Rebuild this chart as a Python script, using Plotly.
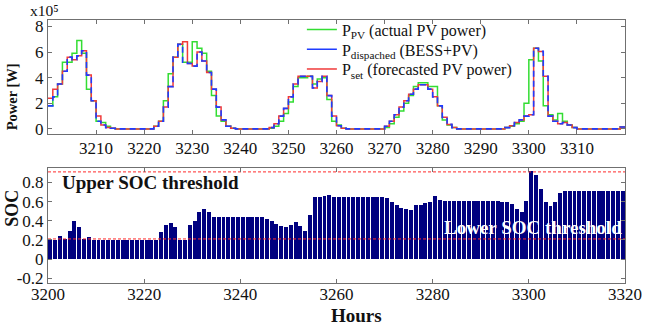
import plotly.graph_objects as go

# ---------------- data ----------------
hours = list(range(3200, 3320))

# power values in units of 1e5 W (axis shows x10^5)
p_pv = [1.8, 2.5, 3.5, 5.2, 5.2, 5.9, 6.9, 5.9, 3.1, 2.2,
        0.6, 0.5, 0.2, 0.05, 0, 0, 0, 0, 0, 0,
        0, 0, 0.2, 0.6, 2.2, 4.3, 5.6, 6.6, 5.2, 5.2,
        6.8, 6.3, 5.9, 4.5, 2.6, 1.0, 0.6, 0.2, 0.05, 0,
        0, 0, 0, 0, 0, 0, 0.05, 0.2, 0.6, 1.2,
        2.1, 3.3, 4.0, 4.0, 4.1, 3.5, 3.9, 4.0, 2.3, 0.6,
        0.3, 0.05, 0, 0, 0, 0, 0, 0, 0, 0,
        0.1, 0.4, 0.9, 1.4, 2.0, 2.6, 3.3, 3.6, 3.6, 3.3,
        3.3, 1.8, 0.7, 0.3, 0.1, 0, 0, 0, 0, 0,
        0, 0, 0, 0, 0, 0.1, 0.2, 0.4, 0.6, 2.0,
        5.4, 6.3, 5.3, 1.8, 1.1, 0.7, 1.2, 0.6, 0.3, 0.1,
        0, 0, 0, 0, 0, 0, 0, 0, 0, 0.15]

p_dispatched = [1.8, 2.5, 3.5, 4.5, 5.6, 5.4, 5.7, 6.1, 4.2, 2.2,
                0.6, 0.3, 0.1, 0.05, 0, 0, 0, 0, 0, 0,
                0, 0, 0.2, 0.6, 1.7, 3.3, 5.6, 6.6, 5.2, 5.1,
                4.9, 6.0, 5.3, 4.4, 3.1, 1.7, 0.7, 0.2, 0.05, 0,
                0, 0, 0, 0, 0, 0, 0.1, 0.4, 1.0, 1.6,
                2.5, 3.5, 4.1, 4.1, 4.1, 3.2, 3.7, 4.1, 2.6, 1.0,
                0.25, 0.05, 0, 0, 0, 0, 0, 0, 0, 0,
                0.2, 0.6, 1.1, 1.7, 2.2, 2.7, 3.1, 3.45, 3.45, 3.1,
                2.5, 1.8, 0.9, 0.35, 0.1, 0, 0, 0, 0, 0,
                0, 0, 0, 0, 0, 0.1, 0.25, 0.5, 0.7, 1.0,
                1.1, 6.3, 6.05, 4.1, 1.0, 0.6, 0.4, 0.5, 0.3, 0.1,
                0, 0, 0, 0, 0, 0, 0, 0, 0, 0.15]

p_set = [2.4, 3.1, 3.5, 4.5, 5.6, 5.4, 5.7, 6.1, 4.2, 2.2,
         1.0, 0.3, 0.1, 0.05, 0, 0, 0, 0, 0, 0,
         0, 0, 0.2, 0.6, 1.7, 3.3, 5.6, 6.6, 6.8, 5.1,
         4.9, 6.0, 5.3, 4.4, 3.1, 1.7, 0.7, 0.2, 0.05, 0,
         0, 0, 0, 0, 0, 0, 0.1, 0.4, 1.0, 1.6,
         2.5, 3.5, 4.1, 4.1, 4.1, 3.2, 3.7, 4.1, 2.6, 1.0,
         0.25, 0.05, 0, 0, 0, 0, 0, 0, 0, 0,
         0.2, 0.6, 1.1, 1.7, 2.2, 2.7, 3.1, 3.45, 3.45, 3.1,
         2.5, 1.8, 0.9, 0.35, 0.1, 0, 0, 0, 0, 0,
         0, 0, 0, 0, 0, 0.1, 0.25, 0.5, 0.7, 1.0,
         1.1, 6.3, 6.05, 4.1, 1.0, 0.6, 0.4, 0.5, 0.3, 0.1,
         0, 0, 0, 0, 0, 0, 0, 0, 0, 0.15]

soc = [0.2, 0.2, 0.245, 0.21, 0.29, 0.40, 0.33, 0.21, 0.225,
       0.195, 0.195, 0.195, 0.195, 0.195, 0.195, 0.195, 0.195, 0.195, 0.195, 0.195, 0.195, 0.195, 0.195,
       0.28, 0.35, 0.375, 0.33, 0.2, 0.2, 0.36, 0.40, 0.49, 0.525, 0.49, 0.44,
       0.44, 0.44, 0.44, 0.44, 0.44, 0.44, 0.44, 0.44, 0.44, 0.44,
       0.42, 0.40, 0.37, 0.34, 0.33, 0.35, 0.39, 0.34, 0.29, 0.456, 0.645, 0.645, 0.655, 0.665,
       0.645, 0.645, 0.645, 0.645, 0.645, 0.645, 0.645, 0.645, 0.645, 0.645, 0.645,
       0.64, 0.6, 0.56, 0.53, 0.525, 0.515, 0.56, 0.56, 0.58, 0.6, 0.655, 0.62,
       0.61, 0.61, 0.61, 0.61, 0.61, 0.61, 0.61, 0.61, 0.61, 0.61, 0.605, 0.605, 0.6, 0.6,
       0.575, 0.52, 0.49, 0.61, 0.92, 0.875, 0.735, 0.59, 0.55, 0.6, 0.69,
       0.715, 0.715, 0.715, 0.715, 0.715, 0.715, 0.715, 0.715, 0.715, 0.715, 0.715, 0.715, 0.715]

upper_soc = 0.91
lower_soc = 0.21

x_ticks_top = [3210, 3220, 3230, 3240, 3250, 3260, 3270, 3280, 3290, 3300, 3310]
x_ticks_bot = [3200, 3220, 3240, 3260, 3280, 3300, 3320]
y_ticks_top = [0, 2, 4, 6, 8]
y_ticks_bot = [-0.2, 0, 0.2, 0.4, 0.6, 0.8]
y_ticktext_bot = ["-0.2", "0", "0.2", "0.4", "0.6", "0.8"]

names = ["P<sub>PV</sub> (actual PV power)",
         "P<sub>dispached</sub> (BESS+PV)",
         "P<sub>set</sub> (forecasted PV power)"]
colors = ["#33dd33", "#1f3cff", "#f03a3a"]

# ---------------- figure ----------------
SERIF = "Liberation Serif, Times New Roman, serif"


def stairs(vals):
    return hours + [hours[-1] + 1], vals + [vals[-1]]


fig = go.Figure()

xs, ys = stairs(p_pv)
fig.add_trace(go.Scatter(x=xs, y=ys, mode="lines", line=dict(color=colors[0], width=1.5, shape="hv"),
                         showlegend=False, xaxis="x", yaxis="y"))
xs, ys = stairs(p_set)
fig.add_trace(go.Scatter(x=xs, y=ys, mode="lines", line=dict(color=colors[2], width=1.5, shape="hv"),
                         showlegend=False, xaxis="x", yaxis="y"))
xs, ys = stairs(p_dispatched)
fig.add_trace(go.Scatter(x=xs, y=ys, mode="lines",
                         line=dict(color=colors[1], width=1.6, shape="hv", dash="6px,4px"),
                         showlegend=False, xaxis="x", yaxis="y"))

# legend entries (solid samples as in the reference), one legend per row for tight spacing
legend_ids = ["legend", "legend2", "legend3"]
for nm, c, lg in zip(names, colors, legend_ids):
    fig.add_trace(go.Scatter(x=[None], y=[None], mode="lines", line=dict(color=c, width=1.5),
                             name=nm, legend=lg, xaxis="x", yaxis="y"))

# SOC bars
fig.add_trace(go.Bar(x=hours, y=soc, width=0.82, offset=0.09,
                     marker=dict(color="#00007f", line=dict(width=0)),
                     showlegend=False, xaxis="x2", yaxis="y2"))

# thresholds
x_rng = [x_ticks_bot[0], x_ticks_bot[-1]]
for lvl in (upper_soc, lower_soc):
    fig.add_trace(go.Scatter(x=x_rng, y=[lvl, lvl], mode="lines",
                             line=dict(color="#ff2a2a", width=1, dash="3px,2px"),
                             showlegend=False, xaxis="x2", yaxis="y2"))

axis_common = dict(showline=True, linecolor="#707070", linewidth=1, mirror="ticks",
                   ticks="inside", ticklen=4, tickcolor="#707070", showgrid=False, zeroline=False,
                   tickfont=dict(family=SERIF, size=17, color="#111"))

leg_common = dict(xanchor="left", yanchor="top", bgcolor="rgba(0,0,0,0)",
                  font=dict(family=SERIF, size=16, color="#111"))

fig.update_layout(
    width=654, height=326,
    margin=dict(l=48, r=18, t=20, b=43),
    paper_bgcolor="white", plot_bgcolor="white",
    font=dict(family=SERIF, color="#111"),
    xaxis=dict(domain=[0, 1], anchor="y", range=[3200, 3320], tickvals=x_ticks_top,
               ticklabelstandoff=-1, **axis_common),
    yaxis=dict(domain=[0.5665, 1], anchor="x", range=[-0.4, 8.5], tickvals=y_ticks_top, **axis_common),
    xaxis2=dict(domain=[0, 1], anchor="y2", range=[3200, 3320], tickvals=x_ticks_bot,
                ticklabelstandoff=-4, **axis_common),
    yaxis2=dict(domain=[0, 0.437], anchor="x2", range=[-0.25, 0.95], tickvals=y_ticks_bot,
                ticktext=y_ticktext_bot, **axis_common),
    bargap=0,
    legend=dict(x=0.44, y=1.028, **leg_common),
    legend2=dict(x=0.44, y=0.953, **leg_common),
    legend3=dict(x=0.44, y=0.878, **leg_common),
    annotations=[
        dict(text="x10⁵", xref="paper", yref="paper", x=-0.034, y=1.076, xanchor="left",
             yanchor="top", showarrow=False, font=dict(family=SERIF, size=15.5, color="#111")),
        dict(text="<b>Power [W]</b>", xref="paper", yref="paper", x=-0.062, y=0.707, textangle=-90,
             xanchor="center", yanchor="middle", showarrow=False,
             font=dict(family=SERIF, size=14.5, color="#111")),
        dict(text="<b>SOC</b>", xref="paper", yref="paper", x=-0.063, y=0.285, textangle=-90,
             xanchor="center", yanchor="middle", showarrow=False,
             font=dict(family=SERIF, size=18, color="#111")),
        dict(text="<b>Hours</b>", xref="paper", yref="paper", x=0.534, y=-0.125,
             xanchor="center", yanchor="middle", showarrow=False,
             font=dict(family=SERIF, size=19, color="#111")),
        dict(text="<b>Upper SOC threshold</b>", xref="x2", yref="y2", x=3202.5, y=0.797,
             xanchor="left", yanchor="middle", showarrow=False,
             font=dict(family=SERIF, size=19, color="#111")),
        dict(text="<b>Lower SOC threshold</b>", xref="x2", yref="y2", x=3281.9, y=0.327,
             xanchor="left", yanchor="middle", showarrow=False,
             font=dict(family=SERIF, size=19, color="white")),
    ],
)

fig.write_html("out.html")
